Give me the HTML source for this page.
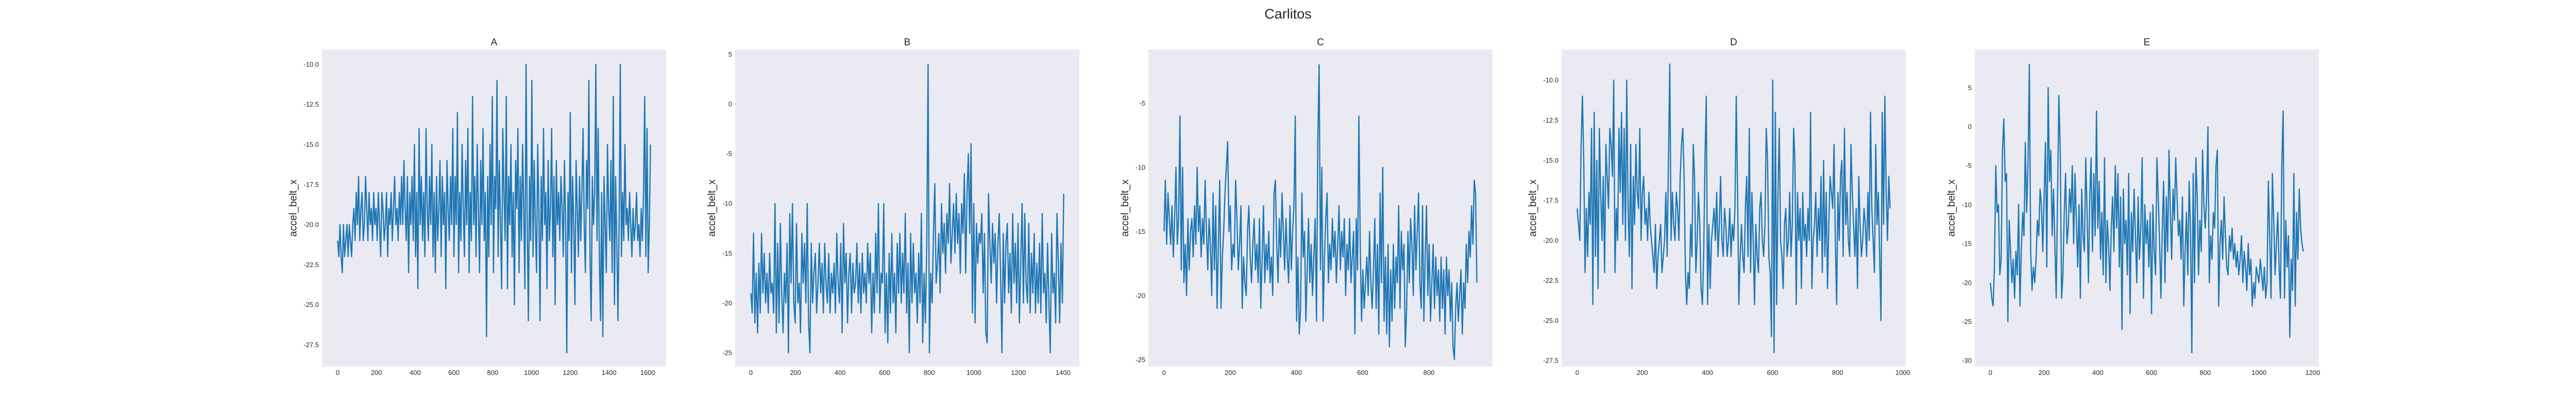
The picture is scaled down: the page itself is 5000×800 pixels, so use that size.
<!DOCTYPE html>
<html><head><meta charset="utf-8"><title>Carlitos</title>
<style>
html,body{margin:0;padding:0;background:#fff;}
svg{display:block;font-family:"Liberation Sans",Arial,sans-serif;}
</style></head>
<body>
<svg id="fig" width="5000" height="800" viewBox="0 0 5000 800" xmlns="http://www.w3.org/2000/svg">
<text x="2500" y="36" text-anchor="middle" font-size="27" fill="#262626">Carlitos</text>
</svg>
<script>
const panelNames = ["A","B","C","D","E"];
const countA = 1615, countB = 1404, countC = 946, countD = 962, countE = 1166;
const valuesA = [-21,-22,-20,-22,-23,-20,-22,-21,-20,-22,-20,-21,-22,-20,
-19,-21,-18,-20,-17,-21,-19,-18,-21,-20,-17,-19,-21,-18,-20,-19,-21,-18,-20,-19,-21,-18,-20,-22,-18,-19,-21,-20,-18,-22,-19,-20,-18,-21,-19,-17,-20,-19,-21,-18,-20,
-17,-20,-16,-19,-21,-17,-23,-18,-20,-17,-21,-15,-22,-18,-24,-14,-20,-17,-21,-18,-22,-14,-19,-21,-17,-20,-15,-22,-18,-23,-17,-21,-19,-16,-22,-17,-20,-18,-24,-16,-19,-21,-17,-20,-14,
-22,-17,-20,-13,-23,-18,-21,-15,-19,-22,-16,-20,-14,-23,-18,-21,-12,-20,-17,-22,-15,-19,-23,-16,-20,-14,-21,-18,-27,-17,-22,-15,-20,-12,-23,-17,-19,-11,-22,-16,-20,-24,-14,-18,-21,-12,-24,-17,-20,-15,-22,-18,-25,-16,-19,-14,-23,-17,-21,-15,-19,-24,-10,-20,-26,-17,-21,
-11,-22,-16,-20,-23,-15,-19,-26,-17,-21,-14,-20,-18,-24,-16,-21,-19,-14,-22,-17,-25,-16,-20,-18,-21,-17,-19,-22,-16,-20,-28,-18,-21,-13,-23,-17,-20,-25,-16,-19,-22,-17,-21,-18,-14,-20,-23,-16,-19,-11,-22,-26,-17,-20,-18,-10,-21,-14,-22,-26,-18,-27,-17,-20,-23,-15,-19,-21,-16,-23,-12,-25,-17,-21,-26,-20,-10,-22,-18,-21,-15,-20,-19,-21,-18,-20,-22,-19,-21,-20,-18,-21,-20,-22,-19,-21,-18,-12,-22,-14,-23,-20,-15];
const valuesB = [-19,-21,-13,-22,-17,-23,-16,-21,-13,-19,-15,-20,-17,-21,-15,-19,-18,-21,-10,-23,-14,-22,-12,-19,-23,-17,-20,-14,-25,-11,-18,-10,-20,-22,
-12,-20,-18,-23,-13,-18,-14,-20,-10,-22,-25,-14,-20,-17,-15,-21,-18,-14,-19,-16,-21,-14,-18,-20,-15,-21,-17,-19,-16,-21,-13,-18,-20,
-14,-23,-12,-18,-15,-22,-17,-15,-21,-16,-19,-18,-14,-20,-16,-21,-15,-19,-17,-20,-14,-18,-15,-23,-17,-21,-13,-19,-10,-21,-17,-18,-10,
-23,-17,-24,-15,-21,-13,-20,-17,-23,-14,-19,-13,-20,-15,-19,-11,-21,-16,-25,-13,-20,-14,-19,-17,-22,-15,-20,-11,-24,-17,-22,-14,4,
-25,-17,-20,-13,-8,-18,-16,-13,-19,-10,-15,-12,-17,-11,-14,-8,-16,-13,-10,-15,-9,-14,-11,-17,-10,-13,-7,-17,-9,-5,-13,-4,-21,
-10,-22,-12,-16,-13,-14,-11,-19,-13,-23,-24,-9,-14,-18,-12,-16,-13,-20,-14,-11,-17,-25,-13,-20,-14,-12,-19,-15,-21,-11,-18,-14,-20,
-12,-22,-16,-10,-20,-11,-18,-20,-12,-21,-15,-19,-13,-21,-16,-20,-14,-21,-11,-19,-17,-22,-14,-20,-25,-13,-19,-17,-22,-11,-16,-22,-14,-20,-9];
const valuesC = [-15,-11,-16,-12,-14,-16,-13,-17,-14,-10,-16,-14,-6,-18,-10,-19,-16,-20,-14,-18,-15,-14,-17,-13,-16,-10,-15,-13,-17,-14,-16,-11,-15,-18,-14,-16,-20,-12,-18,-13,-21,-16,-11,-21,-17,-15,-12,-10,-8,-15,
-13,-18,-16,-17,-11,-14,-18,-16,-13,-21,-17,-19,-20,-15,-13,-17,-19,-16,-14,-18,-16,-19,-14,-21,-17,-13,-19,-16,-18,-15,-19,-17,-20,-12,-11,-16,-19,-14,-17,-12,-15,-18,-14,-17,-19,-13,-18,-15,-13,-6,
-22,-17,-23,-21,-12,-17,-15,-22,-18,-14,-19,-16,-20,-17,-14,-22,-8,-2,-18,-10,-22,-17,-14,-12,-19,-16,-18,-14,-17,-15,-19,-16,-13,-18,-15,-17,-14,-20,-16,-18,-14,-19,-17,-15,-23,-14,-18,-6,-16,-22,
-18,-21,-19,-17,-20,-15,-19,-21,-18,-14,-21,-16,-23,-12,-19,-10,-22,-17,-23,-16,-24,-18,-22,-16,-21,-17,-19,-13,-21,-15,-18,-16,-24,-21,-15,-19,-14,-16,-20,-13,-18,-15,-12,-19,-21,-13,-22,-17,-13,-20,
-16,-22,-19,-16,-21,-17,-20,-18,-22,-17,-21,-18,-23,-17,-20,-18,-22,-19,-24,-25,-21,-19,-22,-20,-18,-23,-19,-21,-16,-19,-15,-17,-13,-16,-11,-12,-19];
const valuesD = [-18,-19,-20,-14,-11,-15,-22,-18,-21,-17,-19,-13,-24,-12,-21,-15,-23,-13,-17,-20,-16,-22,-14,-16,-18,-13,-14,-16,-10,-22,-18,-20,-13,-17,-12,-19,-13,-20,-10,-18,-21,-14,-23,-16,-19,-14,-17,-18,-13,-20,
-17,-16,-19,-18,-20,-17,-19,-20,-21,-22,-19,-23,-21,-20,-19,-22,-21,-20,-17,-21,-15,-9,-20,-17,-19,-20,-17,-18,-20,-16,-14,-13,-16,-22,-24,-22,-23,-19,-21,-14,-16,-22,-20,-17,-19,-23,-24,-21,-15,-11,
-24,-19,-23,-20,-19,-18,-20,-17,-21,-19,-16,-20,-21,-18,-19,-21,-20,-18,-21,-19,-20,-18,-11,-17,-24,-21,-19,-21,-22,-18,-16,-21,-13,-22,-17,-20,-24,-19,-21,-22,-18,-17,-20,-21,-19,-13,-15,-21,-22,-26,
-10,-27,-12,-24,-17,-13,-20,-21,-23,-19,-18,-21,-20,-17,-21,-19,-13,-15,-24,-17,-20,-18,-23,-17,-20,-19,-21,-18,-20,-12,-23,-20,-19,-17,-21,-18,-20,-16,-22,-15,-21,-17,-23,-19,-16,-17,-18,-14,-20,-24,
-17,-20,-16,-15,-21,-13,-19,-17,-20,-21,-14,-17,-19,-21,-18,-23,-16,-19,-21,-20,-18,-19,-21,-17,-20,-12,-18,-20,-22,-14,-19,-17,-21,-25,-12,-19,-11,-17,-20,-16,-18];
const valuesE = [-20,-22,-23,-18,-5,-11,-10,-19,-17,-3,1,-7,-6,-25,-12,-16,-20,-17,-22,-16,-19,-10,-23,-16,-11,-14,-2,-11,-5,8,-16,-21,-18,-20,-17,-12,-14,-8,-10,-16,
-9,-2,-18,5,-7,-3,-14,-8,-15,-22,-9,4,-3,-22,-19,-11,-6,-15,-13,-8,-11,-5,-15,-6,-12,-18,-10,-22,-8,-14,-16,-4,-11,-20,-9,-4,-16,-6,-14,2,
-13,-7,-17,-11,-19,-4,-20,-12,-15,-21,-13,-9,-16,-5,-13,-6,-18,-9,-26,-8,-15,-12,-19,-6,-24,-11,-16,-8,-14,-20,-9,-17,-13,-4,-22,-10,-15,-12,-18,-11,
-24,-10,-16,-19,-4,-9,-15,-22,-13,-7,-20,-9,-16,-3,-11,-17,-8,-12,-4,-9,-14,-12,-17,-9,-23,-16,-11,-19,-7,-13,-29,-6,-20,-4,-9,-19,-12,-16,-3,-10,
-13,-9,0,-20,-14,-17,-11,-13,-5,-3,-23,-15,-12,-17,-9,-14,-18,-19,-14,-16,-13,-17,-15,-18,-16,-19,-17,-14,-20,-16,-18,-21,-15,-19,-17,-23,-20,-22,-18,-19,
-20,-17,-19,-21,-18,-22,-20,-7,-14,-22,-6,-12,-19,-15,-11,-18,-22,-5,2,-22,-12,-18,-14,-27,-17,-21,-6,-23,-11,-17,-8,-13,-15,-16];
const yTicksA = [-10,-12.5,-15,-17.5,-20,-22.5,-25,-27.5];
const yTicksB = [5,0,-5,-10,-15,-20,-25];
const yTicksC = [-5,-10,-15,-20,-25];
const yTicksD = [-10,-12.5,-15,-17.5,-20,-22.5,-25,-27.5];
const yTicksE = [5,0,-5,-10,-15,-20,-25,-30];
const xTicksA = [0,200,400,600,800,1000,1200,1400,1600];
const xTicksB = [0,200,400,600,800,1000,1200,1400];
const xTicksC = [0,200,400,600,800];
const xTicksD = [0,200,400,600,800,1000];
const xTicksE = [0,200,400,600,800,1000,1200];
const yDomA = [-28.87,-9.07], yDomB = [-26.4,5.49], yDomC = [-25.55,-0.8], yDomD = [-27.88,-8.08], yDomE = [-30.78,9.91];
const yDecimals = [1,0,0,1,0];

const NS = "http://www.w3.org/2000/svg";
const svg = document.getElementById("fig");
const counts = [countA,countB,countC,countD,countE];
const values = [valuesA,valuesB,valuesC,valuesD,valuesE];
const yTicks = [yTicksA,yTicksB,yTicksC,yTicksD,yTicksE];
const xTicks = [xTicksA,xTicksB,xTicksC,xTicksD,xTicksE];
const yDoms = [yDomA,yDomB,yDomC,yDomD,yDomE];
const TOP = 96, BOT = 712, W = 668, GAP = 802, LEFT0 = 625;

function mk(tag, attrs){const e=document.createElementNS(NS,tag);for(const k in attrs)e.setAttribute(k,attrs[k]);return e;}

for (let p = 0; p < 5; p++) {
  const left = LEFT0 + p*GAP;
  const n = counts[p] - 1;
  const xMin = -0.05*n, xMax = 1.05*n;
  const yDom = yDoms[p];
  const xs = v => left + (v - xMin)/(xMax - xMin)*W;
  const ys = v => BOT - (v - yDom[0])/(yDom[1] - yDom[0])*(BOT - TOP);

  const g = mk("g", {});
  
  
  svg.appendChild(g);

  const bg = mk("rect", {x:left, y:TOP, width:W, height:BOT-TOP, fill:"#eaeaf2"});
  
  
  g.appendChild(bg);

  const title = mk("text", {x:left+W/2, y:88, "text-anchor":"middle", "font-size":"19", fill:"#262626"});
  title.textContent = panelNames[p];
  
  
  g.appendChild(title);

  let maxW = 0;
  yTicks[p].forEach(t => {
    const tl = mk("text", {x:left-6, y:ys(t)+4.5, "text-anchor":"end", "font-size":"13", fill:"#262626"});
    tl.textContent = t.toFixed(yDecimals[p]);
    
    
    g.appendChild(tl);
    maxW = Math.max(maxW, tl.getComputedTextLength());
  });
  xTicks[p].forEach(t => {
    const tl = mk("text", {x:xs(t), y:728, "text-anchor":"middle", "font-size":"13", fill:"#262626"});
    tl.textContent = String(t);
    
    
    g.appendChild(tl);
  });

  const lx = left - 6 - maxW - 14;
  const yl = mk("text", {x:0, y:0, "text-anchor":"middle", "font-size":"20", fill:"#262626", transform:"translate("+lx+","+((TOP+BOT)/2)+") rotate(-90)"});
  yl.textContent = "accel_belt_x";
  
  
  g.appendChild(yl);

  const vals = values[p];
  const step = n/(vals.length-1);
  let d = "";
  vals.forEach((v,i) => { d += (i?"L":"M") + xs(i*step).toFixed(2) + "," + ys(v).toFixed(2); });
  const line = mk("path", {d:d, fill:"none", stroke:"#1f77b4", "stroke-width":"2.4", "stroke-linejoin":"round"});
  
  
  g.appendChild(line);
}
</script>
</body></html>
